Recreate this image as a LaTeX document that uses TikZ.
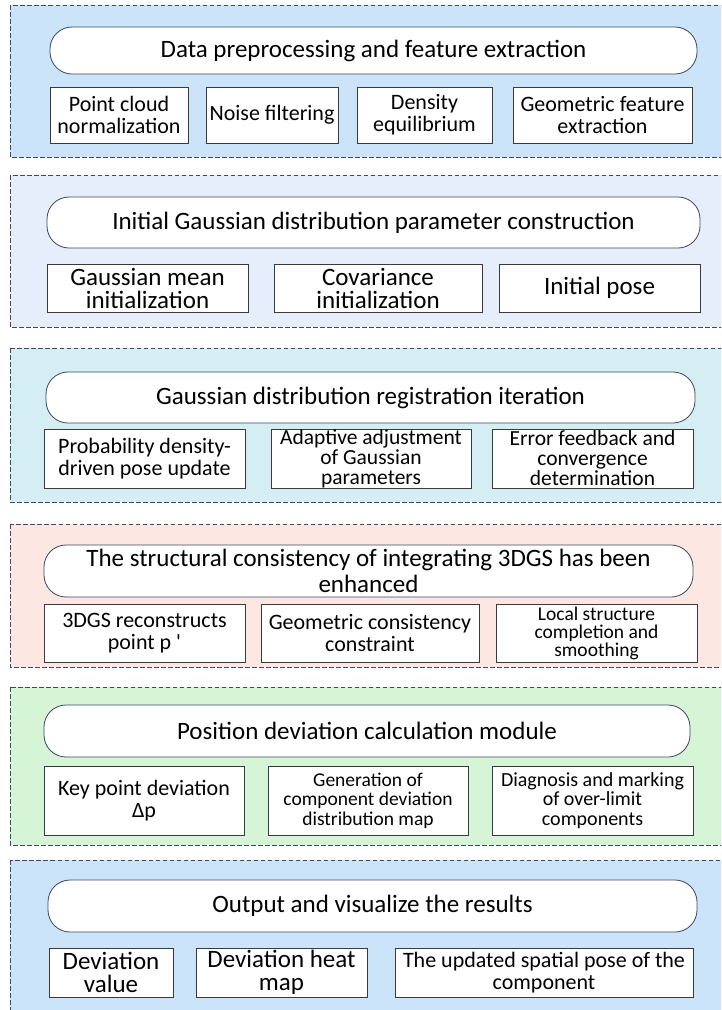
\documentclass[tikz,border=0pt]{standalone}
\usepackage{fontspec}
\setmainfont{Carlito}[Ligatures=TeXOff]
\usetikzlibrary{positioning}

\definecolor{panelline}{HTML}{3E4766}
\definecolor{pillline}{HTML}{3C4660}
\definecolor{boxline}{HTML}{3A3A3A}
\definecolor{blueA}{HTML}{CCE4FA}
\definecolor{blueB}{HTML}{E6EEFB}
\definecolor{cyanC}{HTML}{D5EEF4}
\definecolor{pinkD}{HTML}{FDE7E3}
\definecolor{greenE}{HTML}{D6F5D6}

\newcommand{\fsz}[2]{\fontsize{#1}{#2}\selectfont}

\begin{document}
\begin{tikzpicture}[
        x = 1pt, y = -1pt,
        panel/.style = {draw = panelline, line width = 0.8pt, dash pattern = on 4.5pt off 2.5pt},
        title/.style = {draw = pillline, fill = white, line width = 0.8pt, rounded corners = 22pt,
                        align = center, inner sep = 0pt, font = \fsz{25}{26}},
        item/.style = {draw = boxline, fill = white, line width = 0.8pt, align = center,
                       inner sep = 0pt, font = \fsz{22}{22}}
    ]

      \useasboundingbox (0,0) rectangle (721,1010);
      \clip (0,0) rectangle (721,1010);

      \draw[panel, fill = blueA]  (10,5)   rectangle (730,157);
      \draw[panel, fill = blueB]  (10,175) rectangle (730,327);
      \draw[panel, fill = cyanC]  (10,348) rectangle (730,502);
      \draw[panel, fill = pinkD]  (10,524) rectangle (730,667);
      \draw[panel, fill = greenE] (10,687) rectangle (730,845);
      \draw[panel, fill = blueA]  (10,860) rectangle (730,1020);


      \node[title, minimum width = 647pt, minimum height = 47pt] (prep) at (373.5,50.5) {Data preprocessing and feature extraction};
      \node[item, minimum width = 138pt, minimum height = 56pt] (norm) at (119,115) {Point cloud\\normalization};
      \node[item, minimum width = 132pt, minimum height = 56pt] (noise) at (272,115) {Noise filtering};
      \node[item, minimum width = 135pt, minimum height = 56pt] (dens) at (424.5,115) {Density\\equilibrium};
      \node[item, minimum width = 179pt, minimum height = 56pt] (geo) at (602.5,115) {Geometric feature\\extraction};

      \node[title, minimum width = 653pt, minimum height = 51pt] (init) at (373.5,222.5) {Initial Gaussian distribution parameter construction};
      \node[item, font = \fsz{25}{23}, minimum width = 201pt, minimum height = 48pt] (mean) at (147.5,288) {Gaussian mean\\initialization};
      \node[item, font = \fsz{25}{23}, minimum width = 208pt, minimum height = 48pt] (cov) at (378,288) {Covariance\\initialization};
      \node[item, font = \fsz{25}{23}, minimum width = 201pt, minimum height = 48pt] (pose) at (599.5,288) {Initial pose};

      \node[title, minimum width = 649pt, minimum height = 51pt] (iter) at (370.5,397.5) {Gaussian distribution registration iteration};
      \node[item, minimum width = 201pt, minimum height = 59pt] (prob) at (144.5,458.5) {Probability density-\\driven pose update};
      \node[item, font = \fsz{21.5}{20}, minimum width = 200pt, minimum height = 59pt] (adapt) at (371,458.5) {Adaptive adjustment\\of Gaussian\\parameters};
      \node[item, font = \fsz{21.5}{20}, minimum width = 201pt, minimum height = 59pt] (err) at (592.5,458.5) {Error feedback and\\convergence\\determination};

      \node[title, minimum width = 649pt, minimum height = 52pt] (struct) at (368.5,571) {The structural consistency of integrating 3DGS has been\\enhanced};
      \node[item, minimum width = 201pt, minimum height = 58pt] (recon) at (144.5,633) {3DGS reconstructs\\point p '};
      \node[item, minimum width = 218pt, minimum height = 58pt] (cons) at (370,633) {Geometric consistency\\constraint};
      \node[item, font = \fsz{19.5}{18}, minimum width = 201pt, minimum height = 58pt] (local) at (596.5,633) {Local structure\\completion and\\smoothing};

      \node[title, minimum width = 646pt, minimum height = 52pt] (posdev) at (367,731) {Position deviation calculation module};
      \node[item, minimum width = 200pt, minimum height = 69pt] (key) at (144,800.5) {Key point deviation\\Δp};
      \node[item, font = \fsz{19.5}{19.5}, minimum width = 200pt, minimum height = 69pt] (gen) at (368,800.5) {Generation of\\component deviation\\distribution map};
      \node[item, font = \fsz{20}{19.5}, minimum width = 201pt, minimum height = 69pt] (diag) at (592.5,800.5) {Diagnosis and marking\\of over-limit\\components};

      \node[title, minimum width = 649pt, minimum height = 52pt] (out) at (372.5,906) {Output and visualize the results};
      \node[item, font = \fsz{25}{23}, minimum width = 124pt, minimum height = 49pt] (val) at (111,972.5) {Deviation\\value};
      \node[item, font = \fsz{25}{23}, minimum width = 171pt, minimum height = 49pt] (heat) at (281.5,972.5) {Deviation heat\\map};
      \node[item, minimum width = 298pt, minimum height = 49pt] (upd) at (544,972.5) {The updated spatial pose of the\\component};

    \end{tikzpicture}
\end{document}
